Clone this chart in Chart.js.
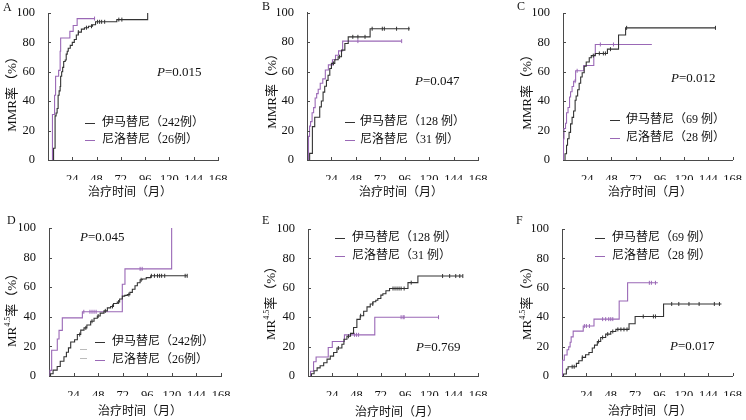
<!DOCTYPE html>
<html>
<head>
<meta charset="utf-8">
<script src="https://cdn.jsdelivr.net/npm/chart.js@4.4.1/dist/chart.umd.min.js"></script>
<style>
  html, body { margin: 0; padding: 0; background: #fff; }
  #wrap { position: relative; width: 746px; height: 420px; overflow: hidden; }
  canvas { position: absolute; }
</style>
</head>
<body>
<div id="wrap">
  <canvas id="pA" width="245" height="205" style="left:0;top:0"></canvas>
  <canvas id="pB" width="250" height="205" style="left:245px;top:0"></canvas>
  <canvas id="pC" width="251" height="205" style="left:495px;top:0"></canvas>
  <canvas id="pD" width="245" height="215" style="left:0;top:205px"></canvas>
  <canvas id="pE" width="250" height="215" style="left:245px;top:205px"></canvas>
  <canvas id="pF" width="251" height="215" style="left:495px;top:205px"></canvas>
</div>
<script>
// axis ticks
const xTickValues = [24, 48, 72, 96, 120, 144, 168];
const yTickValues = [0, 20, 40, 60, 80, 100];
const seriesNames = ['伊马替尼', '尼洛替尼'];
const panelLetters = ['A', 'B', 'C', 'D', 'E', 'F'];
const pValues = ['0.015', '0.047', '0.012', '0.045', '0.769', '0.017'];
const casesA = ['242例', '26例'];
const casesB = ['128 例', '31 例'];
const casesC = ['69 例', '28 例'];
const casesD = ['242例', '26例'];
const casesE = ['128 例', '31 例'];
const casesF = ['69 例', '28 例'];

// A: MMR, all patients (months / rate %, censor months)
const aImaMonths = [5.5, 5.5, 7, 8, 9, 10, 11, 12, 12.5, 13.5, 14.5, 15.5, 17, 18, 19, 20, 22, 24, 26, 28, 30, 33, 36, 40, 44, 47, 68, 98.5];
const aImaRate   = [0, 8, 30, 32, 35, 44, 47, 50, 57, 60, 63, 67, 68, 72, 74, 76, 78, 80, 82, 85, 87, 89, 90, 91, 92, 94, 95.5, 100];
const aImaCensor = [30, 38, 43, 49, 51, 53, 56, 70, 73];
const aNilMonths = [4.4, 4.4, 6.5, 7.5, 10.5, 12, 12.5, 21.6, 24.9, 28.8, 46.5];
const aNilRate   = [0, 31, 44, 57, 61, 74, 83, 87.5, 91.5, 96.2, 96.2];
const aNilCensor = [46];

// B: MMR, second group
const bImaMonths = [2.6, 2.6, 5.3, 7.6, 12.5, 14.1, 15.8, 17.4, 19.1, 20.7, 22.4, 24, 27.3, 30.6, 33.9, 37.2, 40.5, 62, 101];
const bImaRate   = [0, 4.5, 22.6, 29, 36, 40, 46, 50, 54, 57.5, 62, 65.5, 68, 70, 74.5, 79, 83.5, 89, 89];
const bImaCensor = [26, 32, 45, 50, 57, 64, 74, 76, 88, 100];
const bNilMonths = [1.5, 1.5, 2.5, 3.5, 5, 6.5, 8, 9.5, 11, 13, 15.5, 18, 21, 25, 28, 31, 35, 93];
const bNilRate   = [0, 16, 23, 26, 32, 35.5, 42, 45, 48, 52, 55, 61, 64.5, 68, 71, 74, 80.6, 80.6];
const bNilCensor = [50, 93];

// C: MMR, third group
const cImaMonths = [2, 2, 3.5, 4.5, 6, 7.5, 9, 10.5, 12, 13, 14.5, 16, 17.5, 19, 21, 23, 26, 28, 32, 44, 55, 62, 151.5];
const cImaRate   = [0, 4.3, 10, 14.5, 18.8, 24.6, 29, 33.3, 40.6, 43.5, 47.8, 52.2, 56.5, 59.4, 63.8, 66.7, 69.6, 71, 72.5, 75.4, 85, 89.9, 89.9];
const cImaCensor = [30, 36, 40, 42, 47, 63, 151];
const cNilMonths = [0.5, 0.5, 1, 2.5, 3.5, 5, 6.5, 7.5, 9, 10.5, 12.5, 20.5, 30.5, 32, 88];
const cNilRate   = [0, 14.3, 21.4, 25, 32.1, 35.7, 42.9, 46.4, 50, 53.6, 60.7, 64.3, 71.4, 78.6, 78.6];
const cNilCensor = [12, 14, 37, 50];

// D: MR4.5, all patients
const dImaMonths = [1.5, 1.5, 4, 8, 11, 14.6, 17, 19, 21.2, 25, 27.7, 31, 34.2, 37, 40.7, 44, 47.2, 50, 53.7, 57, 60.2, 63, 66.7, 69, 71.6, 74, 76.5, 79, 81.4, 84, 86.3, 89, 91.1, 95, 99.3, 135];
const dImaRate   = [0, 1.5, 4, 6.4, 10, 13, 16, 19, 23, 24.5, 28, 31, 32.5, 34.5, 37, 39, 40.5, 42.5, 44, 46, 47, 49, 50, 52, 54, 54.5, 55, 56.5, 58.6, 61, 63, 65, 65.5, 66.5, 67.7, 67.7];
const dImaCensor = [30, 36, 42, 48, 55, 62, 68, 78, 90, 100, 103, 106, 108, 110, 113, 133, 135];
const dNilMonths = [1, 1, 2.6, 8.1, 9.8, 13, 32.6, 71.6, 74.2, 119.8];
const dNilRate   = [0, 3.8, 17.4, 25, 30.8, 39.3, 43.4, 62, 72.4, 100];
const dNilCensor = [34, 40, 42, 44, 46, 89, 91];

// E: MR4.5, second group
const eImaMonths = [3.4, 3.4, 6, 9, 12, 15.5, 18.8, 22, 25.3, 28.6, 33.5, 35.5, 38.5, 42, 45, 48.3, 51.6, 55, 58.3, 61.5, 64.2, 67, 69, 72, 74, 77, 80.6, 98.8, 108.6, 153];
const eImaRate   = [0, 1.5, 3.6, 5.5, 7, 9, 11.5, 13.5, 16, 19, 21.6, 25, 27, 29, 33, 38.5, 41, 44, 47, 49, 50.5, 51.5, 52.7, 55, 56, 58, 59.5, 63.5, 68, 68];
const eImaCensor = [30, 40, 52, 64, 84, 86, 88, 90, 92, 95, 102, 133, 140, 146, 150, 153];
const eNilMonths = [2.5, 2.5, 5.5, 8, 20, 24, 36, 66, 129];
const eNilRate   = [0, 3.2, 9.7, 12.9, 19.4, 23.5, 28, 40, 40];
const eNilCensor = [46, 48, 50, 92, 94, 95, 129];

// F: MR4.5, third group
const fImaMonths = [1.5, 1.5, 4.3, 6, 14.2, 16.5, 19.9, 23.2, 26.5, 29.8, 32, 34.8, 38.1, 43, 48, 53, 66, 72, 100, 157];
const fImaRate   = [0, 1.4, 4.8, 6.3, 8.6, 10.4, 12.7, 14.5, 16, 19, 21, 23.5, 26.2, 28.5, 30.3, 31.7, 35.5, 40.5, 49, 49];
const fImaCensor = [10, 12, 20, 36, 40, 45, 50, 55, 58, 61, 64, 80, 90, 92, 108, 115, 125, 135, 150, 155];
const fNilMonths = [0.5, 0.5, 2.3, 5, 6.6, 8, 9, 11, 20.9, 31.5, 56.3, 64.6, 94.4];
const fNilRate   = [0, 10.7, 14.3, 17.9, 19.8, 23, 26.6, 30.5, 34, 38.7, 51, 63.4, 63.4];
const fNilCensor = [22, 24, 27, 40, 43, 46, 48, 50, 86, 88, 92];

const inkDark = '#333';
const inkLilac = '#9a68b6';
const axisInk = '#4a4a4a';
const textInk = '#111';
const serif = '"Liberation Serif", "Noto Sans CJK SC", serif';
const Y_W = 30, X_H = 20;

// value of the step curve at month t (value after the last step at or before t)
function rateAt(months, rates, t) {
    let r = 0;
    for (let i = 0; i < months.length; i++) {
        if (months[i] <= t) r = rates[i];
    }
    return r;
}

function drawYTitle(ctx, cx, cy, mr45) {
    const parts = mr45
        ? [['MR', 13, 0], ['4.5', 8, -5], ['率（%）', 13, 0]]
        : [['MMR', 13, 0], ['率（%）', 13, 0]];
    let total = 0;
    parts.forEach(p => { ctx.font = p[1] + 'px ' + serif; total += ctx.measureText(p[0]).width; });
    ctx.save();
    ctx.translate(cx, cy);
    ctx.rotate(-Math.PI / 2);
    ctx.textBaseline = 'middle';
    ctx.textAlign = 'left';
    ctx.fillStyle = textInk;
    let x = -total / 2;
    parts.forEach(p => {
        ctx.font = p[1] + 'px ' + serif;
        ctx.fillText(p[0], x, p[2]);
        x += ctx.measureText(p[0]).width;
    });
    ctx.restore();
}

function makePanel(spec) {
    const canvas = document.getElementById(spec.id);
    const W = canvas.width, H = canvas.height;
    const a = spec.area;

    const decor = {
        id: 'decor' + spec.id,
        afterDraw(chart) {
            const ctx = chart.ctx;
            const xs = chart.scales.x, ys = chart.scales.y;
            ctx.save();
            // inward tick marks
            ctx.strokeStyle = axisInk;
            ctx.lineWidth = 1;
            ctx.beginPath();
            xs.ticks.forEach(t => {
                const px = Math.round(xs.getPixelForValue(t.value)) + 0.5;
                ctx.moveTo(px, ys.bottom); ctx.lineTo(px, ys.bottom - 3);
            });
            ys.ticks.forEach(t => {
                if (t.value === 0) return;
                const py = Math.round(ys.getPixelForValue(t.value)) + 0.5;
                ctx.moveTo(xs.left, py); ctx.lineTo(xs.left + 3, py);
            });
            ctx.stroke();

            // legend
            const lg = spec.legend;
            [inkDark, inkLilac].forEach((col, i) => {
                const y = lg.y[i];
                ctx.strokeStyle = col;
                ctx.beginPath();
                ctx.moveTo(lg.x, y + 0.5); ctx.lineTo(lg.x + 10, y + 0.5);
                ctx.stroke();
                ctx.fillStyle = textInk;
                ctx.font = '12px ' + serif;
                ctx.textBaseline = 'middle';
                ctx.textAlign = 'left';
                ctx.fillText(seriesNames[i] + '（' + spec.cases[i] + '）', lg.tx, y);
            });
            if (spec.ghost) {
                ctx.strokeStyle = '#bbb';
                ctx.beginPath();
                spec.ghost.forEach(g => { ctx.moveTo(g[0], g[1] + 0.5); ctx.lineTo(g[0] + 7, g[1] + 0.5); });
                ctx.stroke();
            }

            // P value
            ctx.fillStyle = textInk;
            ctx.textBaseline = 'middle';
            ctx.textAlign = 'left';
            ctx.font = 'italic 13px ' + serif;
            ctx.fillText('P', spec.p.x, spec.p.y);
            const pw = ctx.measureText('P').width;
            ctx.font = '13px ' + serif;
            ctx.fillText('=' + spec.pValue, spec.p.x + pw, spec.p.y);

            // axis titles
            drawYTitle(ctx, spec.yTitle.x, spec.yTitle.y, spec.mr45);
            ctx.font = '12px ' + serif;
            ctx.textAlign = 'center';
            ctx.fillText('治疗时间（月）', spec.xTitle.x, spec.xTitle.y);

            // panel letter
            ctx.font = '12px ' + serif;
            ctx.textAlign = 'left';
            ctx.fillText(spec.letter, spec.letterPos.x, spec.letterPos.y);
            ctx.restore();
        }
    };

    const curve = (m, r, col) => ({
        data: m.map((v, i) => ({ x: v, y: r[i] })),
        stepped: 'before',
        borderColor: col,
        borderWidth: 1.1,
        pointRadius: 0,
        fill: false
    });
    const marks = (cens, m, r, col) => ({
        data: cens.map(t => ({ x: t, y: rateAt(m, r, t) })),
        showLine: false,
        pointStyle: 'line',
        rotation: 90,
        pointRadius: 2,
        borderColor: col,
        borderWidth: 1
    });

    const s = spec.series;
    new Chart(canvas.getContext('2d'), {
        type: 'line',
        data: {
            datasets: [
                curve(s[0].m, s[0].r, inkDark),
                marks(s[0].c, s[0].m, s[0].r, inkDark),
                curve(s[1].m, s[1].r, inkLilac),
                marks(s[1].c, s[1].m, s[1].r, inkLilac)
            ]
        },
        options: {
            responsive: false,
            animation: false,
            events: [],
            layout: {
                padding: { left: a.l - Y_W, right: W - a.r, top: a.t, bottom: H - a.b - X_H }
            },
            plugins: { legend: { display: false }, tooltip: { enabled: false } },
            scales: {
                x: {
                    type: 'linear', min: 0, max: 168,
                    afterBuildTicks: sc => { sc.ticks = xTickValues.map(v => ({ value: v })); },
                    afterFit: sc => { sc.height = X_H; },
                    grid: { display: false },
                    border: { display: true, color: axisInk, width: 1 },
                    ticks: { font: { family: serif, size: 12.5 }, color: textInk, padding: 4, maxRotation: 0, autoSkip: false }
                },
                y: {
                    type: 'linear', min: 0, max: 100,
                    afterBuildTicks: sc => { sc.ticks = yTickValues.map(v => ({ value: v })); },
                    afterFit: sc => { sc.width = Y_W; },
                    grid: { display: false },
                    border: { display: true, color: axisInk, width: 1 },
                    ticks: { font: { family: serif, size: 12.5 }, color: textInk, padding: 5 }
                }
            }
        },
        plugins: [decor]
    });
}

makePanel({
    id: 'pA', area: { l: 48, r: 218, t: 13, b: 160 }, letter: panelLetters[0], letterPos: { x: 3, y: 8 },
    series: [{ m: aImaMonths, r: aImaRate, c: aImaCensor }, { m: aNilMonths, r: aNilRate, c: aNilCensor }],
    cases: casesA, legend: { x: 85, tx: 102, y: [123, 140] },
    pValue: pValues[0], p: { x: 157, y: 73 },
    mr45: false, yTitle: { x: 13, y: 91 }, xTitle: { x: 130, y: 193 }
});
makePanel({
    id: 'pB', area: { l: 62, r: 233, t: 12, b: 160 }, letter: panelLetters[1], letterPos: { x: 17, y: 7 },
    series: [{ m: bImaMonths, r: bImaRate, c: bImaCensor }, { m: bNilMonths, r: bNilRate, c: bNilCensor }],
    cases: casesB, legend: { x: 100, tx: 115, y: [122, 140] },
    pValue: pValues[1], p: { x: 170, y: 82 },
    mr45: false, yTitle: { x: 28, y: 88 }, xTitle: { x: 156, y: 193 }
});
makePanel({
    id: 'pC', area: { l: 68, r: 239, t: 13, b: 160 }, letter: panelLetters[2], letterPos: { x: 22, y: 7 },
    series: [{ m: cImaMonths, r: cImaRate, c: cImaCensor }, { m: cNilMonths, r: cNilRate, c: cNilCensor }],
    cases: casesC, legend: { x: 115, tx: 131, y: [120, 138] },
    pValue: pValues[2], p: { x: 176, y: 79 },
    mr45: false, yTitle: { x: 33, y: 89 }, xTitle: { x: 155, y: 193 }
});
makePanel({
    id: 'pD', area: { l: 49, r: 221, t: 23, b: 171 }, letter: panelLetters[3], letterPos: { x: 7, y: 16 },
    series: [{ m: dImaMonths, r: dImaRate, c: dImaCensor }, { m: dNilMonths, r: dNilRate, c: dNilCensor }],
    cases: casesD, legend: { x: 95, tx: 112, y: [137, 155] }, ghost: [[80, 144], [80, 153]],
    pValue: pValues[3], p: { x: 80, y: 33 },
    mr45: true, yTitle: { x: 13, y: 102 }, xTitle: { x: 140, y: 207 }
});
makePanel({
    id: 'pE', area: { l: 63, r: 233, t: 24, b: 171 }, letter: panelLetters[4], letterPos: { x: 17, y: 16 },
    series: [{ m: eImaMonths, r: eImaRate, c: eImaCensor }, { m: eNilMonths, r: eNilRate, c: eNilCensor }],
    cases: casesE, legend: { x: 90, tx: 107, y: [33, 51] },
    pValue: pValues[4], p: { x: 171, y: 143 },
    mr45: true, yTitle: { x: 27, y: 95 }, xTitle: { x: 152, y: 208 }
});
makePanel({
    id: 'pF', area: { l: 67, r: 238, t: 24, b: 171 }, letter: panelLetters[5], letterPos: { x: 21, y: 16 },
    series: [{ m: fImaMonths, r: fImaRate, c: fImaCensor }, { m: fNilMonths, r: fNilRate, c: fNilCensor }],
    cases: casesF, legend: { x: 100, tx: 117, y: [33, 51] },
    pValue: pValues[5], p: { x: 175, y: 142 },
    mr45: true, yTitle: { x: 33, y: 95 }, xTitle: { x: 155, y: 207 }
});
</script>
</body>
</html>
